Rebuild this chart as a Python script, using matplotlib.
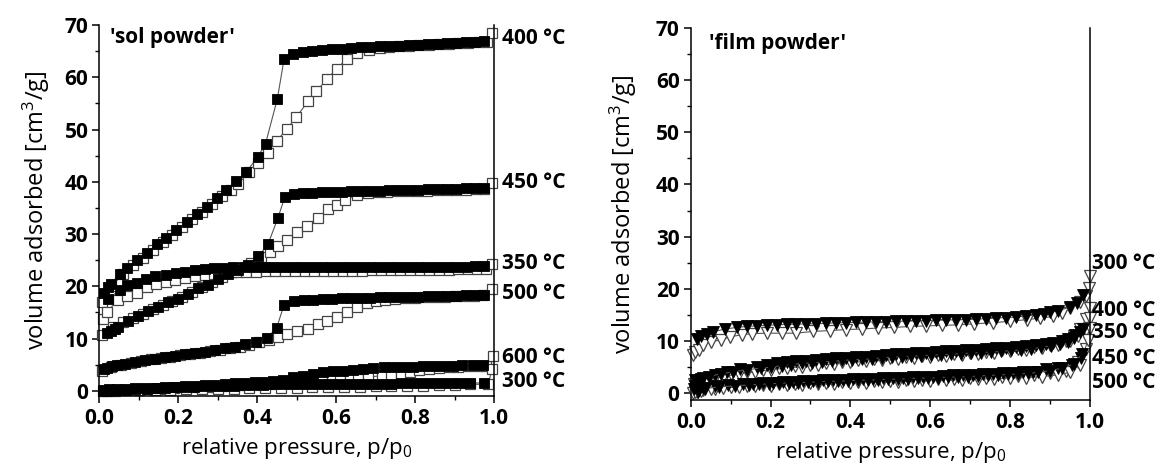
import matplotlib
matplotlib.use("Agg")
import matplotlib.pyplot as plt
from matplotlib.ticker import MultipleLocator

plt.rcParams['font.family'] = ['Open Sans', 'DejaVu Sans']
plt.rcParams['mathtext.fontset'] = 'custom'
plt.rcParams['mathtext.rm'] = 'Open Sans'
plt.rcParams['mathtext.default'] = 'regular'

# ---- 'sol powder' (left): adsorption = filled, desorption = open ----
p_ads_400 = [0.012, 0.022, 0.029, 0.052, 0.071, 0.094, 0.12, 0.145, 0.169, 0.194,
             0.221, 0.246, 0.272, 0.297, 0.322, 0.346, 0.371, 0.401, 0.421, 0.451,
             0.468, 0.49, 0.516, 0.54, 0.565, 0.59, 0.614, 0.638, 0.662, 0.687,
             0.711, 0.735, 0.76, 0.784, 0.808, 0.832, 0.857, 0.881, 0.905, 0.929,
             0.953, 0.975]
v_ads_400 = [18.7, 19.8, 20.5, 22.4, 23.5, 25.1, 26.4, 28.0, 29.3, 30.7,
             32.3, 33.8, 35.2, 36.9, 38.4, 40.1, 41.8, 44.7, 47.3, 55.9,
             63.5, 64.4, 64.8, 65.0, 65.2, 65.4, 65.5, 65.6, 65.7, 65.8,
             65.9, 66.0, 66.0, 66.1, 66.2, 66.3, 66.4, 66.5, 66.6, 66.7,
             66.8, 67.0]
p_des_400 = [0.006, 0.03, 0.06, 0.085, 0.11, 0.135, 0.16, 0.185, 0.21, 0.235,
             0.26, 0.285, 0.31, 0.333, 0.352, 0.379, 0.403, 0.426, 0.449, 0.475,
             0.499, 0.529, 0.55, 0.576, 0.601, 0.627, 0.654, 0.683, 0.71, 0.735,
             0.76, 0.785, 0.81, 0.835, 0.86, 0.885, 0.91, 0.935, 0.96, 0.982,
             0.996]
v_des_400 = [16.9, 20.0, 22.3, 24.0, 25.5, 27.0, 28.5, 29.9, 31.4, 32.8,
             34.3, 35.8, 37.2, 38.5, 39.6, 41.8, 43.5, 45.6, 47.8, 50.1,
             52.4, 55.4, 57.3, 59.6, 61.6, 63.5, 64.6, 65.3, 65.6, 65.8,
             65.9, 66.0, 66.1, 66.2, 66.3, 66.4, 66.5, 66.6, 66.7, 66.8,
             68.4]

p_ads_450 = [0.018, 0.029, 0.039, 0.048, 0.073, 0.097, 0.122, 0.148, 0.173, 0.198,
             0.224, 0.249, 0.274, 0.3, 0.325, 0.35, 0.376, 0.403, 0.427, 0.452,
             0.47, 0.493, 0.516, 0.54, 0.565, 0.59, 0.614, 0.638, 0.662, 0.687,
             0.711, 0.735, 0.76, 0.784, 0.808, 0.832, 0.857, 0.881, 0.905, 0.929,
             0.953, 0.975]
v_ads_450 = [11.0, 11.5, 11.9, 12.3, 13.3, 14.3, 15.2, 16.1, 16.9, 17.6,
             18.5, 19.6, 20.3, 21.4, 22.3, 23.1, 24.1, 25.8, 28.0, 33.0,
             37.1, 37.6, 37.8, 37.9, 38.0, 38.1, 38.1, 38.2, 38.2, 38.3,
             38.3, 38.4, 38.4, 38.5, 38.5, 38.6, 38.6, 38.7, 38.7, 38.8,
             38.8, 38.9]
p_des_450 = [0.006, 0.035, 0.06, 0.085, 0.11, 0.135, 0.16, 0.185, 0.21, 0.235,
             0.26, 0.285, 0.31, 0.335, 0.36, 0.385, 0.41, 0.432, 0.452, 0.475,
             0.5, 0.525, 0.553, 0.58, 0.601, 0.622, 0.652, 0.68, 0.705, 0.73,
             0.755, 0.78, 0.805, 0.83, 0.855, 0.88, 0.905, 0.93, 0.955, 0.975,
             0.994]
v_des_450 = [10.7, 12.3, 13.1, 13.9, 14.7, 15.6, 16.4, 17.2, 18.0, 18.9,
             19.8, 20.8, 21.8, 22.8, 23.5, 24.5, 25.6, 26.5, 27.7, 28.8,
             30.4, 31.5, 33.1, 34.7, 35.5, 36.6, 37.4, 37.8, 38.0, 38.1,
             38.2, 38.2, 38.3, 38.3, 38.4, 38.4, 38.5, 38.5, 38.6, 38.6,
             39.8]

p_ads_350 = [0.022, 0.052, 0.069, 0.094, 0.118, 0.142, 0.168, 0.193, 0.217, 0.242,
             0.267, 0.291, 0.316, 0.339, 0.367, 0.391, 0.416, 0.44, 0.465, 0.49,
             0.514, 0.538, 0.563, 0.587, 0.612, 0.636, 0.66, 0.685, 0.709, 0.733,
             0.758, 0.782, 0.807, 0.831, 0.855, 0.88, 0.904, 0.928, 0.952, 0.975]
v_ads_350 = [17.6, 19.3, 20.3, 20.7, 21.4, 21.9, 22.2, 22.6, 22.8, 23.1,
             23.3, 23.5, 23.5, 23.6, 23.7, 23.7, 23.7, 23.7, 23.7, 23.7,
             23.7, 23.7, 23.7, 23.7, 23.7, 23.7, 23.7, 23.7, 23.7, 23.7,
             23.7, 23.7, 23.7, 23.7, 23.7, 23.7, 23.7, 23.7, 23.8, 23.8]
p_des_350 = [0.008, 0.018, 0.046, 0.071, 0.094, 0.12, 0.143, 0.169, 0.191, 0.218,
             0.243, 0.267, 0.29, 0.317, 0.348, 0.372, 0.397, 0.421, 0.446, 0.47,
             0.495, 0.52, 0.544, 0.568, 0.593, 0.617, 0.641, 0.666, 0.69, 0.714,
             0.739, 0.763, 0.787, 0.812, 0.836, 0.86, 0.885, 0.909, 0.933, 0.958,
             0.98, 0.996]
v_des_350 = [13.7, 15.0, 17.3, 18.2, 18.7, 19.8, 20.4, 20.8, 21.2, 21.6,
             21.9, 22.1, 22.3, 22.5, 22.7, 22.8, 22.8, 22.9, 22.9, 22.9,
             22.9, 23.0, 23.0, 23.0, 23.0, 23.0, 23.0, 23.0, 23.1, 23.1,
             23.1, 23.1, 23.1, 23.2, 23.2, 23.2, 23.2, 23.3, 23.3, 23.3,
             23.4, 24.3]

p_ads_500 = [0.012, 0.02, 0.032, 0.045, 0.065, 0.09, 0.115, 0.141, 0.166, 0.191,
             0.217, 0.242, 0.267, 0.293, 0.318, 0.343, 0.37, 0.398, 0.424, 0.449,
             0.468, 0.493, 0.518, 0.542, 0.566, 0.59, 0.614, 0.638, 0.662, 0.687,
             0.711, 0.735, 0.76, 0.784, 0.808, 0.832, 0.857, 0.881, 0.905, 0.929,
             0.953, 0.975]
v_ads_500 = [4.2, 4.4, 4.7, 4.9, 5.2, 5.6, 5.8, 6.1, 6.4, 6.6,
             7.0, 7.3, 7.5, 7.8, 8.1, 8.4, 8.9, 9.4, 10.1, 12.0,
             16.5, 17.1, 17.3, 17.4, 17.5, 17.6, 17.7, 17.7, 17.8, 17.8,
             17.9, 17.9, 18.0, 18.0, 18.0, 18.1, 18.1, 18.2, 18.2, 18.3,
             18.3, 18.4]
p_des_500 = [0.006, 0.03, 0.055, 0.08, 0.105, 0.13, 0.155, 0.18, 0.205, 0.23,
             0.255, 0.28, 0.305, 0.33, 0.355, 0.38, 0.405, 0.43, 0.452, 0.475,
             0.5, 0.529, 0.553, 0.577, 0.603, 0.627, 0.652, 0.677, 0.70, 0.725,
             0.75, 0.775, 0.80, 0.825, 0.85, 0.875, 0.90, 0.925, 0.95, 0.972,
             0.994]
v_des_500 = [3.8, 4.5, 5.0, 5.4, 5.7, 6.0, 6.2, 6.5, 6.8, 7.0,
             7.3, 7.6, 7.8, 8.1, 8.4, 8.8, 9.3, 9.8, 10.2, 10.9,
             11.5, 11.9, 12.7, 13.3, 14.1, 15.0, 16.0, 16.8, 17.2, 17.4,
             17.6, 17.7, 17.8, 17.9, 17.9, 18.0, 18.1, 18.1, 18.2, 18.3,
             19.5]

p_ads_600 = [0.01, 0.02, 0.035, 0.05, 0.065, 0.09, 0.12, 0.145, 0.166, 0.19,
             0.217, 0.242, 0.268, 0.293, 0.318, 0.343, 0.37, 0.394, 0.42, 0.44,
             0.466, 0.49, 0.516, 0.542, 0.567, 0.592, 0.617, 0.643, 0.668, 0.693,
             0.72, 0.745, 0.77, 0.795, 0.82, 0.845, 0.87, 0.895, 0.92, 0.947,
             0.973]
v_ads_600 = [0.0, 0.05, 0.1, 0.15, 0.2, 0.3, 0.4, 0.5, 0.6, 0.7,
             0.85, 1.0, 1.05, 1.15, 1.3, 1.4, 1.5, 1.6, 1.75, 1.9,
             2.0, 2.6, 2.9, 3.2, 3.5, 3.7, 3.8, 4.0, 4.2, 4.35,
             4.5, 4.5, 4.6, 4.6, 4.7, 4.7, 4.75, 4.8, 4.85, 4.9,
             4.9]
p_des_600 = [0.008, 0.04, 0.07, 0.1, 0.13, 0.16, 0.19, 0.22, 0.25, 0.28,
             0.31, 0.34, 0.37, 0.4, 0.43, 0.46, 0.49, 0.515, 0.54, 0.565,
             0.59, 0.61, 0.635, 0.656, 0.68, 0.715, 0.74, 0.765, 0.787, 0.81,
             0.835, 0.86, 0.885, 0.91, 0.935, 0.96, 0.98, 0.997]
v_des_600 = [0.0, 0.0, 0.1, 0.2, 0.3, 0.4, 0.5, 0.6, 0.7, 0.8,
             0.9, 1.0, 1.1, 1.2, 1.3, 1.4, 1.5, 1.6, 1.7, 1.8,
             2.0, 2.1, 2.2, 2.2, 2.6, 2.9, 3.0, 3.2, 3.5, 4.0,
             4.2, 4.4, 4.5, 4.6, 4.7, 4.8, 4.8, 6.7]

p_ads_300 = [0.01, 0.025, 0.045, 0.065, 0.09, 0.115, 0.14, 0.165, 0.19, 0.215,
             0.24, 0.265, 0.29, 0.315, 0.34, 0.365, 0.39, 0.415, 0.44, 0.465,
             0.49, 0.515, 0.54, 0.565, 0.59, 0.615, 0.64, 0.665, 0.69, 0.715,
             0.74, 0.765, 0.79, 0.815, 0.84, 0.865, 0.89, 0.915, 0.94, 0.975]
v_ads_300 = [0.2, 0.3, 0.3, 0.4, 0.5, 0.5, 0.6, 0.7, 0.7, 0.8,
             0.8, 0.9, 0.9, 1.0, 1.0, 1.1, 1.1, 1.1, 1.2, 1.2,
             1.2, 1.2, 1.2, 1.2, 1.2, 1.3, 1.3, 1.3, 1.3, 1.3,
             1.3, 1.4, 1.4, 1.4, 1.4, 1.4, 1.4, 1.5, 1.5, 1.5]
p_des_300 = [0.02, 0.06, 0.1, 0.14, 0.18, 0.22, 0.26, 0.3, 0.34, 0.38,
             0.42, 0.46, 0.5, 0.54, 0.58, 0.62, 0.66, 0.7, 0.74, 0.78,
             0.82, 0.86, 0.9, 0.94, 0.985, 0.996]
v_des_300 = [0.0, 0.1, 0.1, 0.2, 0.2, 0.3, 0.3, 0.4, 0.4, 0.5,
             0.5, 0.6, 0.6, 0.7, 0.7, 0.8, 0.8, 0.9, 0.9, 1.0,
             1.0, 1.1, 1.1, 1.2, 1.3, 4.2]

sol_series = [(p_ads_400, v_ads_400, p_des_400, v_des_400),
              (p_ads_450, v_ads_450, p_des_450, v_des_450),
              (p_ads_350, v_ads_350, p_des_350, v_des_350),
              (p_ads_500, v_ads_500, p_des_500, v_des_500),
              (p_ads_600, v_ads_600, p_des_600, v_des_600),
              (p_ads_300, v_ads_300, p_des_300, v_des_300)]
sol_labels = ['400 °C', '450 °C', '350 °C', '500 °C', '600 °C', '300 °C']
sol_label_y = [67.4, 39.8, 24.4, 18.7, 6.3, 1.7]

# ---- 'film powder' (right): filled / open triangles ----
f_ads_300_p = [0.015, 0.027, 0.04, 0.057, 0.086, 0.115, 0.14, 0.165, 0.19, 0.215,
               0.24, 0.265, 0.29, 0.315, 0.34, 0.365, 0.39, 0.415, 0.44, 0.465,
               0.49, 0.515, 0.54, 0.565, 0.59, 0.615, 0.64, 0.665, 0.69, 0.715,
               0.74, 0.765, 0.79, 0.816, 0.84, 0.866, 0.885, 0.9, 0.92, 0.95,
               0.968, 0.982]
f_ads_300_v = [10.3, 10.9, 11.4, 11.8, 12.3, 12.6, 12.8, 12.9, 13.0, 13.1,
               13.2, 13.2, 13.3, 13.3, 13.4, 13.5, 13.5, 13.6, 13.6, 13.7,
               13.7, 13.8, 13.8, 13.9, 13.9, 14.0, 14.0, 14.1, 14.1, 14.2,
               14.3, 14.4, 14.5, 14.6, 14.8, 15.0, 15.2, 15.5, 15.8, 16.5,
               17.3, 18.9]
f_des_300_p = [0.005, 0.011, 0.02, 0.032, 0.052, 0.077, 0.098, 0.128, 0.153, 0.19,
               0.228, 0.265, 0.307, 0.349, 0.39, 0.43, 0.47, 0.51, 0.55, 0.59,
               0.63, 0.67, 0.71, 0.758, 0.8, 0.842, 0.875, 0.908, 0.93, 0.95,
               0.975, 0.99, 0.998, 1.0]
f_des_300_v = [7.4, 7.9, 8.3, 9.3, 9.9, 10.2, 10.8, 11.2, 11.4, 11.5,
               11.5, 11.5, 11.85, 12.0, 12.2, 12.3, 12.5, 12.6, 12.8, 12.9,
               13.0, 13.1, 13.3, 13.5, 13.8, 14.1, 14.4, 14.7, 15.4, 16.3,
               17.4, 18.6, 20.2, 22.4]

f_ads_400_p = [0.019, 0.032, 0.061, 0.09, 0.123, 0.165, 0.19, 0.215, 0.24, 0.265,
               0.29, 0.315, 0.34, 0.365, 0.39, 0.415, 0.44, 0.465, 0.49, 0.515,
               0.54, 0.565, 0.59, 0.615, 0.64, 0.665, 0.69, 0.715, 0.74, 0.765,
               0.79, 0.815, 0.84, 0.866, 0.89, 0.908, 0.93, 0.946, 0.963, 0.982]
f_ads_400_v = [2.2, 2.9, 3.5, 4.15, 4.6, 5.1, 5.4, 5.7, 5.9, 6.1,
               6.2, 6.4, 6.5, 6.7, 6.8, 6.9, 7.0, 7.2, 7.3, 7.5,
               7.6, 7.7, 7.8, 7.9, 8.0, 8.1, 8.2, 8.3, 8.5, 8.6,
               8.7, 8.9, 9.0, 9.3, 9.5, 9.6, 10.0, 10.4, 11.2, 12.3]
f_des_400_p = [0.01, 0.03, 0.06, 0.1, 0.14, 0.18, 0.22, 0.26, 0.3, 0.34,
               0.38, 0.42, 0.46, 0.5, 0.54, 0.58, 0.62, 0.66, 0.7, 0.74,
               0.78, 0.82, 0.86, 0.9, 0.94, 0.96, 0.975, 0.99, 1.0]
f_des_400_v = [1.5, 2.3, 3.0, 3.6, 4.1, 4.5, 4.9, 5.2, 5.5, 5.8,
               6.0, 6.3, 6.5, 6.7, 6.9, 7.1, 7.3, 7.5, 7.7, 7.9,
               8.2, 8.5, 8.9, 9.3, 10.0, 11.0, 12.3, 14.2, 16.4]

f_ads_350_p = [0.012, 0.025, 0.045, 0.075, 0.105, 0.14, 0.175, 0.2, 0.228, 0.252,
               0.278, 0.303, 0.328, 0.353, 0.378, 0.403, 0.428, 0.453, 0.478, 0.503,
               0.528, 0.553, 0.578, 0.603, 0.628, 0.653, 0.678, 0.703, 0.728, 0.753,
               0.778, 0.803, 0.828, 0.853, 0.878, 0.903, 0.925, 0.945, 0.96, 0.975]
f_ads_350_v = [2.5, 2.8, 3.2, 3.7, 4.1, 4.5, 4.8, 5.0, 5.3, 5.5,
               5.7, 5.8, 6.0, 6.1, 6.3, 6.4, 6.5, 6.6, 6.8, 6.9,
               7.0, 7.1, 7.2, 7.3, 7.4, 7.5, 7.6, 7.7, 7.8, 7.9,
               8.0, 8.2, 8.3, 8.5, 8.8, 9.1, 9.4, 9.9, 10.6, 11.8]
f_des_350_p = [0.008, 0.02, 0.04, 0.08, 0.12, 0.16, 0.2, 0.24, 0.28, 0.32,
               0.36, 0.4, 0.44, 0.48, 0.52, 0.56, 0.6, 0.64, 0.68, 0.72,
               0.76, 0.8, 0.84, 0.88, 0.92, 0.95, 0.97, 0.99, 1.0]
f_des_350_v = [1.8, 2.2, 2.6, 3.2, 3.7, 4.1, 4.5, 4.8, 5.1, 5.4,
               5.6, 5.9, 6.1, 6.3, 6.5, 6.7, 6.9, 7.1, 7.3, 7.5,
               7.7, 8.0, 8.3, 8.7, 9.2, 10.0, 11.0, 12.2, 14.5]

f_ads_450_p = [0.011, 0.02, 0.03, 0.06, 0.093, 0.13, 0.155, 0.18, 0.205, 0.23,
               0.257, 0.282, 0.307, 0.332, 0.357, 0.382, 0.407, 0.432, 0.457, 0.482,
               0.507, 0.532, 0.557, 0.582, 0.607, 0.632, 0.657, 0.682, 0.707, 0.732,
               0.758, 0.783, 0.808, 0.833, 0.858, 0.891, 0.92, 0.954, 0.977]
f_ads_450_v = [1.3, 0.6, 1.0, 1.3, 1.6, 1.8, 1.85, 1.9, 2.0, 2.1,
               2.2, 2.3, 2.4, 2.5, 2.55, 2.6, 2.7, 2.75, 2.8, 2.9,
               3.0, 3.0, 3.1, 3.2, 3.2, 3.3, 3.4, 3.4, 3.5, 3.6,
               3.7, 3.8, 3.9, 4.0, 4.1, 4.6, 4.9, 5.4, 6.7]
f_des_450_p = [0.006, 0.015, 0.03, 0.06, 0.1, 0.14, 0.18, 0.22, 0.26, 0.3,
               0.34, 0.38, 0.42, 0.46, 0.5, 0.54, 0.58, 0.62, 0.66, 0.7,
               0.74, 0.78, 0.82, 0.86, 0.9, 0.94, 0.97, 0.99, 1.0]
f_des_450_v = [0.0, 0.3, 0.6, 0.9, 1.2, 1.4, 1.5, 1.7, 1.8, 1.9,
               2.0, 2.1, 2.2, 2.3, 2.4, 2.5, 2.6, 2.7, 2.8, 2.9,
               3.0, 3.2, 3.3, 3.5, 3.8, 4.3, 6.0, 8.5, 12.5]

f_ads_500_p = [0.008, 0.018, 0.035, 0.07, 0.11, 0.145, 0.17, 0.195, 0.22, 0.245,
               0.27, 0.295, 0.32, 0.345, 0.37, 0.395, 0.42, 0.445, 0.47, 0.495,
               0.52, 0.545, 0.57, 0.595, 0.62, 0.645, 0.67, 0.695, 0.72, 0.745,
               0.77, 0.795, 0.82, 0.845, 0.87, 0.9, 0.93, 0.96, 0.98]
f_ads_500_v = [0.8, 0.3, 0.9, 1.2, 1.4, 1.6, 1.7, 1.8, 1.9, 2.0,
               2.0, 2.1, 2.2, 2.3, 2.3, 2.4, 2.5, 2.5, 2.6, 2.7,
               2.7, 2.8, 2.9, 2.9, 3.0, 3.1, 3.1, 3.2, 3.3, 3.4,
               3.5, 3.6, 3.7, 3.8, 4.0, 4.3, 4.8, 5.6, 7.5]
f_des_500_p = [0.01, 0.025, 0.05, 0.08, 0.12, 0.16, 0.2, 0.24, 0.28, 0.32,
               0.36, 0.4, 0.44, 0.48, 0.52, 0.56, 0.6, 0.64, 0.68, 0.72,
               0.76, 0.8, 0.84, 0.88, 0.92, 0.95, 0.975, 0.995]
f_des_500_v = [0.2, 0.5, 0.8, 1.0, 1.2, 1.3, 1.4, 1.5, 1.6, 1.7,
               1.8, 1.9, 2.0, 2.1, 2.2, 2.3, 2.4, 2.5, 2.6, 2.7,
               2.8, 2.9, 3.0, 3.2, 3.5, 4.0, 5.5, 10.2]

film_series = [(f_ads_300_p, f_ads_300_v, f_des_300_p, f_des_300_v),
               (f_ads_400_p, f_ads_400_v, f_des_400_p, f_des_400_v),
               (f_ads_350_p, f_ads_350_v, f_des_350_p, f_des_350_v),
               (f_ads_450_p, f_ads_450_v, f_des_450_p, f_des_450_v),
               (f_ads_500_p, f_ads_500_v, f_des_500_p, f_des_500_v)]
film_labels = ['300 °C', '400 °C', '350 °C', '450 °C', '500 °C']
film_label_y = [24.9, 15.8, 11.6, 6.7, 2.0]

LINE = '#555555'
FS_TICK = 15


def style_axes(ax, ybottom, ypad):
    ax.set_xlim(0, 1)
    ax.set_ylim(ybottom, 70)
    ax.spines['top'].set_visible(False)
    for s in ['left', 'bottom', 'right']:
        ax.spines[s].set_linewidth(1.1)
    ax.xaxis.set_major_locator(MultipleLocator(0.2))
    ax.xaxis.set_minor_locator(MultipleLocator(0.1))
    ax.yaxis.set_major_locator(MultipleLocator(10))
    ax.yaxis.set_minor_locator(MultipleLocator(5))
    ax.tick_params(which='major', direction='out', length=5, width=1.1,
                   labelsize=FS_TICK)
    ax.tick_params(axis='x', which='major', pad=4)
    ax.tick_params(axis='y', which='major', pad=3)
    ax.tick_params(which='minor', direction='out', length=3, width=1.0)
    ax.tick_params(right=False, top=False, which='both')
    ax.set_xticks([0, 0.2, 0.4, 0.6, 0.8, 1.0])
    ax.set_xticklabels(['0.0', '0.2', '0.4', '0.6', '0.8', '1.0'])
    for lab in ax.get_xticklabels() + ax.get_yticklabels():
        lab.set_fontweight('bold')
    ax.set_xlabel('relative pressure, p/p$_0$', fontsize=16, labelpad=5)
    ax.set_ylabel('volume adsorbed [cm$^3$/g]', fontsize=17, labelpad=ypad)


fig = plt.figure(figsize=(11.62, 4.65), dpi=100)
ax1 = fig.add_axes([0.0856, 0.1484, 0.3395, 0.7978])
ax2 = fig.add_axes([0.5944, 0.1398, 0.3436, 0.8002])

for pa, va, pd, vd in sol_series:
    ax1.plot(pd, vd, color=LINE, lw=0.8, marker='s', ms=7.5, mfc='white',
             mec='#444444', mew=0.9, clip_on=False, zorder=2)
    ax1.plot(pa, va, color=LINE, lw=0.8, marker='s', ms=7.5, mfc='black',
             mec='black', mew=0.6, clip_on=False, zorder=3)
for lab, y in zip(sol_labels, sol_label_y):
    ax1.text(1.02, y, lab, transform=ax1.get_yaxis_transform(), fontsize=15,
             fontweight='bold', va='center', ha='left')
ax1.text(0.027, 0.995, "'sol powder'", transform=ax1.transAxes, fontsize=15,
         fontweight='bold', va='top', ha='left')
style_axes(ax1, -1.0, 9)

for pa, va, pd, vd in film_series:
    ax2.plot(pd, vd, color=LINE, lw=0.8, marker='v', ms=9, mfc='white',
             mec='#444444', mew=0.9, clip_on=False, zorder=2)
    ax2.plot(pa, va, color=LINE, lw=0.8, marker='v', ms=9, mfc='black',
             mec='black', mew=0.6, clip_on=False, zorder=3)
for lab, y in zip(film_labels, film_label_y):
    ax2.text(1.006, y, lab, transform=ax2.get_yaxis_transform(), fontsize=15,
             fontweight='bold', va='center', ha='left')
ax2.text(0.045, 0.985, "'film powder'", transform=ax2.transAxes, fontsize=15,
         fontweight='bold', va='top', ha='left')
style_axes(ax2, -1.3, 12)

fig.savefig('out.png', dpi=100)
